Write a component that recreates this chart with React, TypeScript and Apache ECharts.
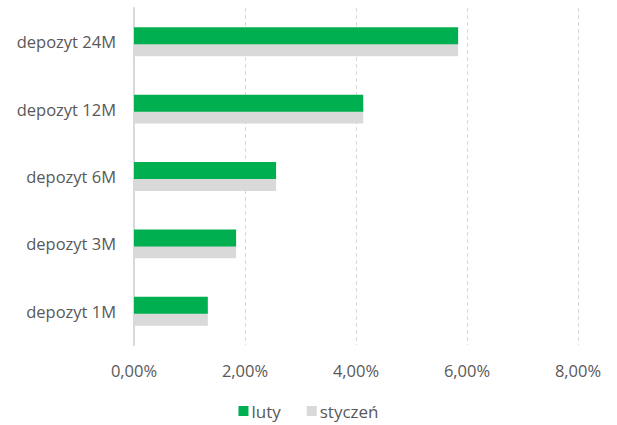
import React, { useEffect, useRef } from "react";
import * as echarts from "echarts";

const categories = ["depozyt 1M", "depozyt 3M", "depozyt 6M", "depozyt 12M", "depozyt 24M"];
const luty = [1.33, 1.84, 2.56, 4.13, 5.84];
const styczen = [1.33, 1.84, 2.56, 4.13, 5.84];
const xTicks = { min: 0, max: 8, interval: 2 };

const FONT = "'Open Sans', 'Noto Sans', sans-serif";

export default function App() {
  const ref = useRef<HTMLDivElement>(null);
  useEffect(() => {
    const chart = echarts.init(ref.current!, null, { renderer: "svg" });
    chart.setOption({
      animation: false,
      grid: { left: 134, right: 39, top: 8, bottom: 80 },
      legend: {
        data: ["luty", "styczeń"],
        top: 401,
        left: "center",
        padding: 0,
        icon: "rect",
        itemWidth: 10,
        itemHeight: 10,
        itemGap: 26,
        textStyle: { color: "#595959", fontSize: 17, lineHeight: 20, fontFamily: FONT, padding: [0, 0, 0, -2] },
      },
      xAxis: {
        type: "value",
        min: xTicks.min,
        max: xTicks.max,
        interval: xTicks.interval,
        axisLine: { show: false },
        axisTick: { show: false },
        splitLine: { show: true, lineStyle: { color: "#d9d9d9", type: [4, 3], width: 1 } },
        axisLabel: {
          color: "#595959",
          fontSize: 16.5,
          fontFamily: FONT,
          margin: 17,
          formatter: (v: number) => v.toFixed(2).replace(".", ",") + "%",
        },
      },
      yAxis: {
        type: "category",
        data: categories,
        axisLine: { show: true, lineStyle: { color: "#d9d9d9", width: 2 } },
        axisTick: { show: false },
        axisLabel: { color: "#595959", fontSize: 16.5, fontFamily: FONT, margin: 18 },
      },
      series: [
        {
          name: "luty",
          type: "bar",
          data: luty,
          barWidth: 17,
          barGap: "-30%",
          z: 3,
          itemStyle: { color: "#00b050" },
        },
        {
          name: "styczeń",
          type: "bar",
          data: styczen,
          barWidth: 17,
          barGap: "-30%",
          z: 2,
          itemStyle: { color: "#d9d9d9" },
        },
      ],
    });
    return () => chart.dispose();
  }, []);
  return <div ref={ref} style={{ width: 617, height: 425, position: "absolute", left: 0, top: 0 }} />;
}
